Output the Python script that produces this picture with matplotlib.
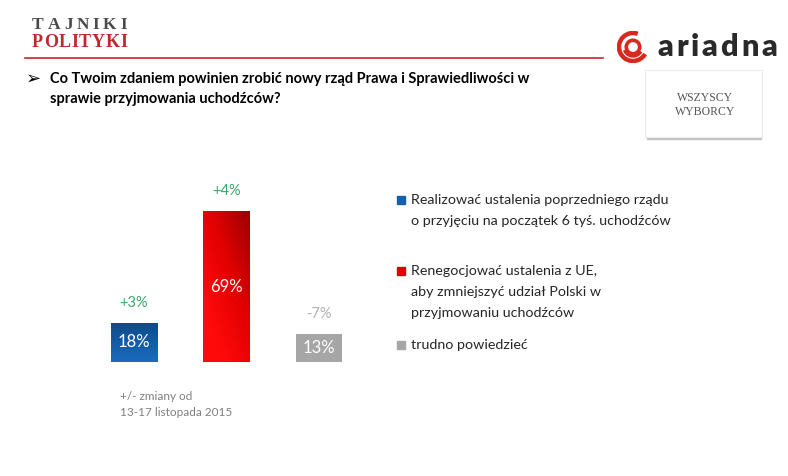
import numpy as np
import matplotlib
matplotlib.use("Agg")
import matplotlib.pyplot as plt
from matplotlib.patches import Rectangle, Arc, Circle

# Data
categories = [
    "Realizować ustalenia poprzedniego rządu\no przyjęciu na początek 6 tyś. uchodźców",
    "Renegocjować ustalenia z UE,\naby zmniejszyć udział Polski w\nprzyjmowaniu uchodźców",
    "trudno powiedzieć",
]
values = [18, 69, 13]
changes = [3, 4, -7]
value_labels = ["18%", "69%", "13%"]
change_labels = ["+3%", "+4%", "-7%"]

bar_colors = ["#1560a8", "#e50000", "#a6a6a6"]
change_colors = ["#3aa66a", "#3aa66a", "#b0b0b0"]

plt.rcParams['font.family'] = ['Lato', 'DejaVu Sans']

W, H = 788, 476
fig = plt.figure(figsize=(W / 100, H / 100), dpi=100)
fig.patch.set_facecolor("white")


def px(x, y):
    return x / W, 1 - y / H


def tracked(word, x0, x1, y, **kw):
    # spread the letters of a word evenly between x0 and x1 (pixels)
    r = fig.canvas.get_renderer()
    ts = [fig.text(0, 0, ch, ha="left", va="center", **kw) for ch in word]
    widths = [t.get_window_extent(r).width for t in ts]
    gap = (x1 - x0 - sum(widths)) / (len(word) - 1)
    x = x0
    for t, w in zip(ts, widths):
        t.set_position(px(x, y))
        x += w + gap


# Bar chart axes (pixel geometry from the reference)
left, right, bottom = 87.75, 365.25, 362
ax = fig.add_axes([left / W, (H - bottom) / H, (right - left) / W, 218.8 / H])
ax.set_xlim(-0.5, 2.5)
ax.set_ylim(0, 100)
ax.axis("off")

xs = np.arange(len(values))
bars = ax.bar(xs, values, width=0.5, color=bar_colors, zorder=2)

# gradients on blue and red bars
grads = {
    0: ["#1a6cc0", "#0c4a8a"],
    1: ["#ff0a0a", "#e00000", "#9a0000"],
}
for i, cols in grads.items():
    b = bars[i]
    cmap = matplotlib.colors.LinearSegmentedColormap.from_list("g%d" % i, cols)
    gx, gy = np.meshgrid(np.linspace(0, 1, 100), np.linspace(0, 1, 100))
    if i == 1:
        g = np.clip(0.55 * gx + 0.6 * gy - 0.25, 0, 1)
    else:
        g = gy
    im = ax.imshow(g, cmap=cmap, aspect="auto", origin="lower", zorder=3,
                   extent=[b.get_x(), b.get_x() + b.get_width(), 0, b.get_height()])
    im.set_clip_path(b)

for i, (v, vl) in enumerate(zip(values, value_labels)):
    ax.text(xs[i], v / 2, vl, ha="center", va="center", color="white",
            fontsize=12, zorder=4)
    ax.annotate(change_labels[i], (xs[i], v), xytext=(0, 20), textcoords="offset pixels",
                ha="center", va="center", color=change_colors[i], fontsize=10.5)

# Legend
legend_y = [200, 271, 345]
for i, lab in enumerate(categories):
    fig.patches.append(Rectangle(px(397, legend_y[i] + 4), 8 / W, 8 / H,
                                 transform=fig.transFigure, color=bar_colors[i] if i != 1 else "#e00000"))
    for j, line in enumerate(lab.split("\n")):
        fig.text(*px(411, legend_y[i] + j * 21), line, ha="left", va="center",
                 fontsize=10.3, color="#262626")

# Footnote
fig.text(*px(120, 397), "+/- zmiany od", ha="left", va="center", fontsize=8.5, color="#808080")
fig.text(*px(120, 413), "13-17 listopada 2015", ha="left", va="center", fontsize=8.5, color="#808080")

# Question
fig.text(*px(26, 79), "➢", ha="left", va="center", fontsize=13, color="black",
         family=["DejaVu Sans"])
fig.text(*px(50, 79), "Co Twoim zdaniem powinien zrobić nowy rząd Prawa i Sprawiedliwości w",
         ha="left", va="center", fontsize=10.5, fontweight="bold", color="black")
fig.text(*px(50, 99), "sprawie przyjmowania uchodźców?",
         ha="left", va="center", fontsize=10.5, fontweight="bold", color="black")

# Tajniki Polityki logo
tracked("TAJNIKI", 32, 127, 25, fontsize=12.5, fontweight="bold", color="#4a4a4a",
        family=["Liberation Serif"])
tracked("POLITYKI", 32, 127, 42.5, fontsize=13, fontweight="bold", color="#c0282d",
        family=["Liberation Serif"])
fig.add_artist(plt.Line2D([25 / W, 603 / W], [1 - 58 / H, 1 - 58 / H],
                          color="#c0282d", lw=1.2, transform=fig.transFigure))

# ariadna logo
logo = fig.add_axes([617 / W, 1 - 63 / H, 32 / W, 32 / H])
logo.set_xlim(-1, 1)
logo.set_ylim(-1, 1)
logo.set_aspect("equal")
logo.axis("off")
logo.add_patch(Arc((0, 0), 1.75, 1.75, theta1=70, theta2=330, color="#d42a20", lw=3.2))
logo.add_patch(Circle((0, 0), 0.42, fill=False, ec="#d42a20", lw=2.6))
logo.add_patch(Arc((0, 0), 1.15, 1.15, theta1=200, theta2=330, color="#d42a20", lw=2.2))
tracked("ariadna", 658, 777, 47, fontsize=22, fontweight="heavy", color="#2a2a2a")

# WSZYSCY WYBORCY box
fig.patches.append(Rectangle(px(647, 139), 114 / W, 3 / H, transform=fig.transFigure,
                             color="#c4c4c4", zorder=1))
fig.patches.append(Rectangle(px(645, 137), 117 / W, 67 / H, transform=fig.transFigure,
                             fc="white", ec="#ececec", lw=0.8, zorder=2))
fig.text(*px(705, 98), "WSZYSCY", ha="center", va="center", fontsize=8.5, color="#555555",
         family=["Liberation Serif"], zorder=3)
fig.text(*px(705, 112), "WYBORCY", ha="center", va="center", fontsize=8.5, color="#555555",
         family=["Liberation Serif"], zorder=3)

fig.savefig("out.png", dpi=100)
